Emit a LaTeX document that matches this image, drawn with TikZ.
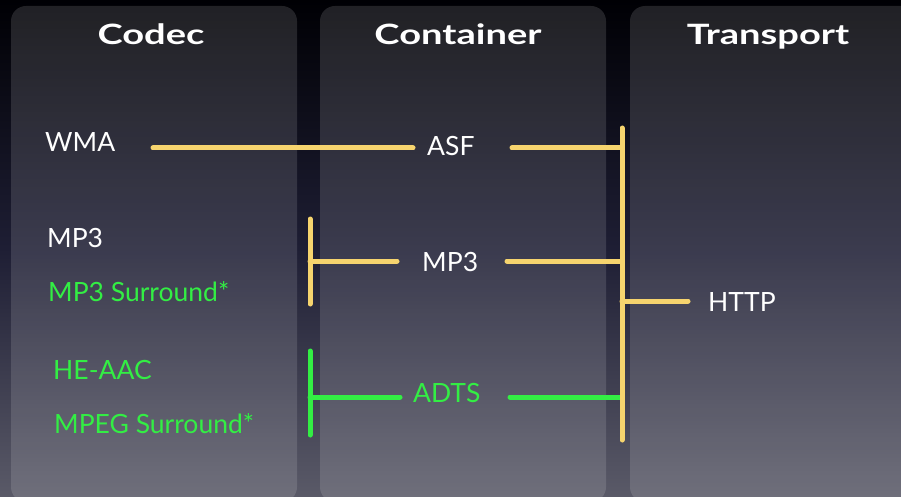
\documentclass[tikz,border=0pt]{standalone}
\usepackage{fontspec}
\setmainfont{Lato}
\newfontfamily\headfont[FakeStretch=1.36]{Lato}
\usetikzlibrary{positioning}
\definecolor{pipeyellow}{HTML}{F6D46E}
\definecolor{pipegreen}{HTML}{33EE44}
\definecolor{bgtop}{HTML}{000004}
\definecolor{bgmid}{HTML}{1E1E34}
\definecolor{bgbot}{HTML}{5A5A68}
\tikzset{
	column/.style={fill=white,fill opacity=0.13,rounded corners=15pt},
	head/.style={anchor=base,text=white,inner sep=0pt,font=\headfont\bfseries\fontsize{28}{30}\selectfont},
	item/.style={anchor=west,inner sep=0pt,text height=19pt,text depth=0pt,text=white,font=\fontsize{26.5}{30}\selectfont},
	gitem/.style={item,text=pipegreen},
	pipe/.style={line width=5pt,line cap=round,draw=pipeyellow},
	gpipe/.style={pipe,draw=pipegreen}
}

\begin{document}
\begin{tikzpicture}[x=1pt,y=-1pt]
	\useasboundingbox (0,0) rectangle (901,497);
	\begin{scope}
		\clip (0,0) rectangle (901,497);
		\shade [top color=bgtop,bottom color=bgbot,middle color=bgmid] (0,0) rectangle (901,497);
		% the three columns
		\path [column] (11,6) rectangle (297,502);
		\path [column] (320,6) rectangle (606,502);
		\path [column] (630,6) rectangle (940,502);
	\end{scope}
	
	\node [head] (codec) at (151,45) {Codec};
	\node [head] (container) at (458,45) {Container};
	\node [head] (transport) at (768,45) {Transport};
	
	% codecs
	\node [item] (wma) at (45,142.5) {WMA};
	\node [item] (mp3) at (47,238) {MP3};
	\node [gitem] (mp3s) at (48,292) {MP3 Surround*};
	\node [gitem] (heaac) at (53,370) {HE-AAC};
	\node [gitem] (mpegs) at (54,424) {MPEG Surround*};
	% containers
	\node [item] (asf) at (427,146) {ASF};
	\node [item] (mp3c) at (422,262) {MP3};
	\node [gitem] (adts) at (413,393) {ADTS};
	% transport
	\node [item] (http) at (708,302) {HTTP};
	
	\coordinate (bustop) at (622,128);
	\coordinate (busbot) at (622,440);
	\coordinate (wmaout) at (153,148);
	\coordinate (asfin) at (413,148);
	\coordinate (asfout) at (512,148);
	\coordinate (mp3top) at (310,219);
	\coordinate (mp3bot) at (310,304);
	\coordinate (mp3in) at (397,261);
	\coordinate (mp3out) at (507,261);
	\coordinate (adtstop) at (310,351);
	\coordinate (adtsbot) at (310,435);
	\coordinate (adtsin) at (400,397);
	\coordinate (adtsout) at (510,397);
	\coordinate (httpin) at (688,301);
	
	\draw [pipe] (wmaout) -- (asfin);
	\draw [pipe] (asfout) -- (asfout -| bustop);
	\draw [pipe] (mp3top) -- (mp3bot);
	\draw [pipe] (mp3in -| mp3top) -- (mp3in);
	\draw [pipe] (mp3out) -- (mp3out -| bustop);
	\draw [gpipe] (adtstop) -- (adtsbot);
	\draw [gpipe] (adtsin -| adtstop) -- (adtsin);
	\draw [gpipe] (adtsout) -- (adtsout -| bustop);
	\draw [pipe] (httpin -| bustop) -- (httpin);
	\draw [pipe] (bustop) -- (busbot);
\end{tikzpicture}
\end{document}
